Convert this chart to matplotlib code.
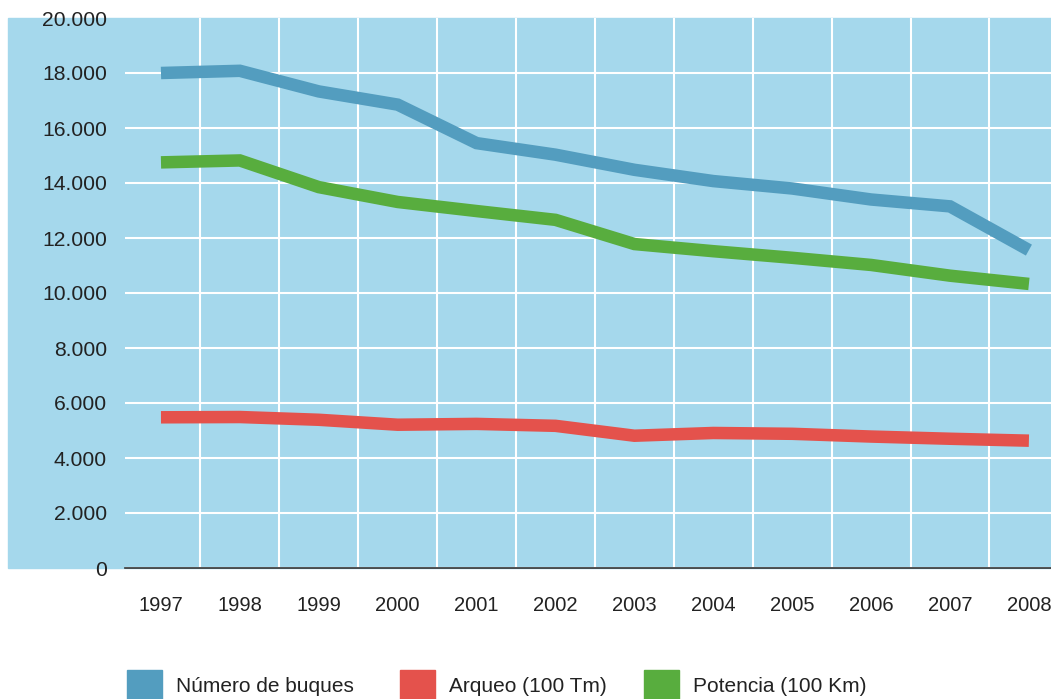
import matplotlib

matplotlib.use("Agg")
import matplotlib.pyplot as plt
from matplotlib.patches import Rectangle
from matplotlib.ticker import FixedLocator, FuncFormatter

# ---------------- data ----------------
years = ["1997", "1998", "1999", "2000", "2001", "2002", "2003", "2004", "2005", "2006", "2007", "2008"]
buques = [18000, 18080, 17330, 16850, 15450, 15030, 14480, 14070, 13800, 13400, 13150, 11560]
arqueo = [5480, 5490, 5390, 5210, 5240, 5170, 4810, 4910, 4880, 4780, 4700, 4630]
potencia = [14750, 14820, 13850, 13310, 12980, 12660, 11780, 11520, 11280, 11020, 10630, 10330]
labels = ["Número de buques", "Arqueo (100 Tm)", "Potencia (100 Km)"]
yticks = [0, 2000, 4000, 6000, 8000, 10000, 12000, 14000, 16000, 18000, 20000]

# ---------------- style ----------------
BG = "#a5d8ec"
COLORS = ["#539dbf", "#e4524c", "#58ad3e"]
W, H = 1051, 699
LEGEND_X = [127, 400, 644]  # left edge of each legend swatch, px
plt.rcParams["font.family"] = ["Liberation Sans", "DejaVu Sans"]

fig = plt.figure(figsize=(W / 100, H / 100), dpi=100)
# light blue panel behind the plot, wider than the axes
fig.patches.append(Rectangle((8 / W, (H - 568) / H), (W - 8) / W, 550 / H,
                             transform=fig.transFigure, color=BG, zorder=-5))

ax = fig.add_axes([125 / W, (H - 568) / H, (W - 125) / W, 550 / H])
ax.set_facecolor("none")
ax.set_zorder(1)

x = range(len(years))
for series, color in zip([buques, arqueo, potencia], COLORS):
    ax.plot(x, series, color=color, lw=9, solid_capstyle="butt", solid_joinstyle="miter", zorder=3)

ax.set_ylim(0, 20000)
ax.set_xlim(-0.456, 11.28)
ax.set_yticks(yticks)
ax.yaxis.set_major_formatter(FuncFormatter(lambda v, _: f"{int(v):,}".replace(",", ".")))
ax.set_xticks(list(x))
ax.set_xticklabels(years)
ax.xaxis.set_minor_locator(FixedLocator([i + 0.5 for i in x][:-1]))

ax.grid(axis="y", which="major", color="white", lw=1.5, zorder=1)
ax.grid(axis="x", which="minor", color="white", lw=1.5, zorder=1)
ax.get_ygridlines()[-1].set_visible(False)  # no line along the top edge
ax.tick_params(which="both", length=0, labelsize=14.5, colors="#222222")
ax.tick_params(axis="y", pad=13, labelsize=15.2)
ax.tick_params(axis="x", pad=20)

for side in ("top", "right", "left"):
    ax.spines[side].set_visible(False)
ax.spines["bottom"].set_color("#333333")
ax.spines["bottom"].set_linewidth(1.2)
ax.spines["bottom"].set_zorder(4)

# legend drawn by hand: swatches are uneven-spaced in the original
for lx, color, label in zip(LEGEND_X, COLORS, labels):
    fig.patches.append(Rectangle((lx / W, 0), 35 / W, 29 / H, transform=fig.transFigure, color=color))
    fig.text((lx + 49) / W, (H - 687) / H, label, fontsize=15, color="#222222", va="center", ha="left")

fig.savefig("out.png", dpi=100)
